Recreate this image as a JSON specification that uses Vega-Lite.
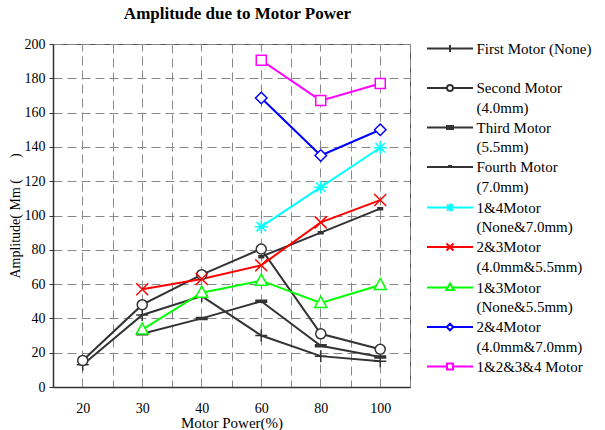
{
  "$schema": "https://vega.github.io/schema/vega-lite/v6.json",
  "width": 357,
  "height": 343,
  "autosize": {"type": "none"},
  "padding": {"left": 53, "top": 44, "right": 195, "bottom": 43},
  "background": "white",
  "title": {"text": "Amplitude due to Motor Power", "font": "Liberation Serif", "fontSize": 17, "fontWeight": "bold", "color": "black", "anchor": "middle", "dx": 6, "offset": 14},
  "config": {
    "view": {"stroke": "#555", "strokeWidth": 1},
    "font": "Liberation Serif",
    "axis": {"labelFont": "Liberation Serif", "labelFontSize": 14, "labelColor": "black", "titleFont": "Liberation Serif", "titleFontSize": 14, "titleFontWeight": "normal", "titleColor": "black", "domainColor": "#333", "domainWidth": 1.5, "tickColor": "#333", "gridColor": "#888", "gridDash": [9, 5], "gridWidth": 1, "labelOverlap": false},
    "point": {"filled": true, "fill": "white", "strokeWidth": 1.5, "size": 100, "opacity": 1}
  },
  "data": {"values": [
    {"series": "First Motor (None)", "power": "20", "amp": 13},
    {"series": "First Motor (None)", "power": "30", "amp": 42},
    {"series": "First Motor (None)", "power": "40", "amp": 53},
    {"series": "First Motor (None)", "power": "60", "amp": 30},
    {"series": "First Motor (None)", "power": "80", "amp": 18},
    {"series": "First Motor (None)", "power": "100", "amp": 15},
    {"series": "Second Motor (4.0mm)", "power": "20", "amp": 15.5},
    {"series": "Second Motor (4.0mm)", "power": "30", "amp": 48},
    {"series": "Second Motor (4.0mm)", "power": "40", "amp": 65.5},
    {"series": "Second Motor (4.0mm)", "power": "60", "amp": 80.5},
    {"series": "Second Motor (4.0mm)", "power": "80", "amp": 31},
    {"series": "Second Motor (4.0mm)", "power": "100", "amp": 22},
    {"series": "Third Motor (5.5mm)", "power": "30", "amp": 31},
    {"series": "Third Motor (5.5mm)", "power": "40", "amp": 40},
    {"series": "Third Motor (5.5mm)", "power": "60", "amp": 50},
    {"series": "Third Motor (5.5mm)", "power": "80", "amp": 24},
    {"series": "Third Motor (5.5mm)", "power": "100", "amp": 17.5},
    {"series": "Fourth Motor (7.0mm)", "power": "60", "amp": 76},
    {"series": "Fourth Motor (7.0mm)", "power": "80", "amp": 90},
    {"series": "Fourth Motor (7.0mm)", "power": "100", "amp": 104},
    {"series": "1&4Motor (None&7.0mm)", "power": "60", "amp": 93.5},
    {"series": "1&4Motor (None&7.0mm)", "power": "80", "amp": 116.5},
    {"series": "1&4Motor (None&7.0mm)", "power": "100", "amp": 139.5},
    {"series": "2&3Motor (4.0mm&5.5mm)", "power": "30", "amp": 57},
    {"series": "2&3Motor (4.0mm&5.5mm)", "power": "40", "amp": 63},
    {"series": "2&3Motor (4.0mm&5.5mm)", "power": "60", "amp": 71},
    {"series": "2&3Motor (4.0mm&5.5mm)", "power": "80", "amp": 96},
    {"series": "2&3Motor (4.0mm&5.5mm)", "power": "100", "amp": 109},
    {"series": "1&3Motor (None&5.5mm)", "power": "30", "amp": 33.5},
    {"series": "1&3Motor (None&5.5mm)", "power": "40", "amp": 55},
    {"series": "1&3Motor (None&5.5mm)", "power": "60", "amp": 62},
    {"series": "1&3Motor (None&5.5mm)", "power": "80", "amp": 49},
    {"series": "1&3Motor (None&5.5mm)", "power": "100", "amp": 59.5},
    {"series": "2&4Motor (4.0mm&7.0mm)", "power": "60", "amp": 168.5},
    {"series": "2&4Motor (4.0mm&7.0mm)", "power": "80", "amp": 135},
    {"series": "2&4Motor (4.0mm&7.0mm)", "power": "100", "amp": 150},
    {"series": "1&2&3&4 Motor", "power": "60", "amp": 190.5},
    {"series": "1&2&3&4 Motor", "power": "80", "amp": 167},
    {"series": "1&2&3&4 Motor", "power": "100", "amp": 177}
  ]},
  "encoding": {
    "x": {"field": "power", "type": "ordinal", "sort": ["20", "30", "40", "60", "80", "100"], "scale": {"type": "band", "paddingInner": 0, "paddingOuter": 0}, "axis": null},
    "y": {"field": "amp", "type": "quantitative", "scale": {"domain": [0, 200], "nice": false},
          "axis": {"title": "Amplitude( Mm (\u00a0\u00a0\u00a0\u00a0\u00a0\u00a0)", "values": [0, 20, 40, 60, 80, 100, 120, 140, 160, 180, 200], "tickCount": 12, "tickSize": 4, "labelPadding": 4, "titlePadding": 2, "grid": true}}
  },
  "layer": [
    {
      "mark": {"type": "line", "strokeWidth": 2},
      "encoding": {
        "x": {"field": "power", "type": "ordinal", "sort": ["20", "30", "40", "60", "80", "100"],
              "scale": {"type": "band", "paddingInner": 0, "paddingOuter": 0},
              "axis": {"orient": "bottom", "title": "Motor Power(%)", "titleFontSize": 15, "labelAngle": 0, "tickBand": "extent", "grid": true, "ticks": false, "labelPadding": 14, "titlePadding": 0}},
        "color": {"field": "series", "type": "nominal",
          "scale": {"domain": ["First Motor (None)", "Second Motor (4.0mm)", "Third Motor (5.5mm)", "Fourth Motor (7.0mm)", "1&4Motor (None&7.0mm)", "2&3Motor (4.0mm&5.5mm)", "1&3Motor (None&5.5mm)", "2&4Motor (4.0mm&7.0mm)", "1&2&3&4 Motor"],
                    "range": ["#333333", "#333333", "#333333", "#333333", "#00ffff", "#ff0000", "#00ff00", "#0000ff", "#ff00ff"]},
          "legend": {
            "orient": "none", "legendX": 374, "legendY": -3, "direction": "vertical", "title": null, "padding": 0,
            "symbolSize": 100, "symbolStrokeWidth": 2, "symbolOffset": 15.5, "labelOffset": 19,
            "labelFont": "Liberation Serif", "labelFontSize": 15, "labelColor": "black", "labelBaseline": "top", "labelLimit": 0, "rowPadding": 3.5,
            "labelExpr": "datum.label == 'First Motor (None)' ? ['First Motor (None)', ''] : (indexof(datum.label, ' (') > 0 ? [slice(datum.label, 0, indexof(datum.label, ' (')), slice(datum.label, indexof(datum.label, ' (') + 1)] : datum.label)",
            "encode": {
              "symbols": {"update": {
                "shape": {"signal": "['M-4.6,0L4.6,0M0,-0.7L0,0.7', 'M-4.6,0L-0.6,0M0.6,0L4.6,0M0.6,0A0.6,0.6,0,1,1,-0.6,0A0.6,0.6,0,1,1,0.6,0Z', 'M-4.6,0L4.6,0M-0.8,-0.3L0.8,-0.3M-0.8,0.3L0.8,0.3', 'M-4.6,0L4.6,0M-0.4,-0.2L0.4,-0.2', 'M-4.6,0L4.6,0M0,-0.8L0,0.8M-0.6,-0.6L0.6,0.6M-0.6,0.6L0.6,-0.6', 'M-4.6,0L4.6,0M-0.7,-0.7L0.7,0.7M-0.7,0.7L0.7,-0.7', 'M-4.6,0L-0.46,0M0.46,0L4.6,0M0,-0.8L0.75,0.5L-0.75,0.5Z', 'M-4.6,0L-0.65,0M0.65,0L4.6,0M0,-0.65L0.65,0L0,0.65L-0.65,0Z', 'M-4.6,0L-0.6,0M0.6,0L4.6,0M-0.6,-0.6L0.6,-0.6L0.6,0.6L-0.6,0.6Z'][datum.index]"},
                "fill": {"value": "white"}
              }},
              "labels": {"update": {"dy": {"value": -7}, "lineHeight": {"value": 19.75}}}
            }
          }
        }
      }
    },
    {
      "transform": [{"filter": "datum.series == 'First Motor (None)'"}],
      "mark": {"type": "point", "shape": "M-1.2,0L1.2,0M0,-1.2L0,1.2", "stroke": "#333333"},
      "encoding": {
        "x": {"field": "power", "type": "ordinal", "sort": ["20", "30", "40", "60", "80", "100"],
              "axis": {"orient": "top", "title": null, "labels": false, "ticks": false, "domain": false, "grid": true, "tickBand": "center"}}
      }
    },
    {
      "transform": [{"filter": "datum.series == 'Second Motor (4.0mm)'"}],
      "mark": {"type": "point", "shape": "M1,0A1,1,0,1,1,-1,0A1,1,0,1,1,1,0Z", "stroke": "#333333"}
    },
    {
      "transform": [{"filter": "datum.series == 'Third Motor (5.5mm)'"}],
      "mark": {"type": "point", "shape": "M-1.2,-0.2L1.2,-0.2M-1.2,0.2L1.2,0.2M-1.2,0L1.2,0", "stroke": "#333333"}
    },
    {
      "transform": [{"filter": "datum.series == 'Fourth Motor (7.0mm)'"}],
      "mark": {"type": "point", "shape": "M-0.6,-0.2L0.6,-0.2M-0.6,0.2L0.6,0.2M-0.6,0L0.6,0", "stroke": "#333333"}
    },
    {
      "transform": [{"filter": "datum.series == '1&4Motor (None&7.0mm)'"}],
      "mark": {"type": "point", "shape": "M-1.3,0L1.3,0M0,-1.3L0,1.3M-0.95,-0.95L0.95,0.95M-0.95,0.95L0.95,-0.95", "stroke": "#00ffff"}
    },
    {
      "transform": [{"filter": "datum.series == '2&3Motor (4.0mm&5.5mm)'"}],
      "mark": {"type": "point", "shape": "M-1.2,-1.2L1.2,1.2M-1.2,1.2L1.2,-1.2", "stroke": "#ff0000"}
    },
    {
      "transform": [{"filter": "datum.series == '1&3Motor (None&5.5mm)'"}],
      "mark": {"type": "point", "shape": "M0,-1.3L1.2,0.9L-1.2,0.9Z", "stroke": "#00ff00"}
    },
    {
      "transform": [{"filter": "datum.series == '2&4Motor (4.0mm&7.0mm)'"}],
      "mark": {"type": "point", "shape": "M0,-1.15L1.15,0L0,1.15L-1.15,0Z", "stroke": "#0000ff"}
    },
    {
      "transform": [{"filter": "datum.series == '1&2&3&4 Motor'"}],
      "mark": {"type": "point", "shape": "M-1,-1L1,-1L1,1L-1,1Z", "stroke": "#ff00ff"}
    }
  ],
  "resolve": {"axis": {"x": "independent"}}
}
